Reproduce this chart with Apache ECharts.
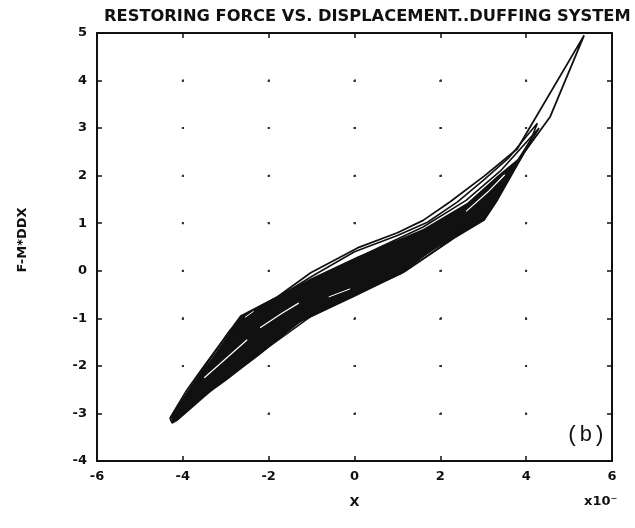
<!DOCTYPE html>
<html>
<head>
<meta charset="utf-8">
<script src="https://cdn.jsdelivr.net/npm/echarts@6/dist/echarts.min.js"></script>
<style>
  html, body { margin: 0; padding: 0; background: #fff; }
  #chart { width: 635px; height: 528px; }
</style>
</head>
<body>
<div id="chart"></div>
<script>
// axis ticks
const xTicks = [-6, -4, -2, 0, 2, 4, 6];
const yTicks = [-4, -3, -2, -1, 0, 1, 2, 3, 4, 5];

// dense part of the hysteresis band (upper edge left->right, lower edge right->left)
const bandUpper = [[-4.28, -3.07], [-3.8, -2.4], [-3.35, -1.87], [-2.65, -0.95], [-1.45, -0.36], [-1.0, -0.15],
  [0.07, 0.3], [0.8, 0.58], [1.6, 0.88], [2.63, 1.43], [3.33, 2.0], [3.8, 2.35], [4.2, 2.92]];
const bandLower = [[4.2, 2.92], [3.95, 2.48], [3.63, 1.98], [3.33, 1.49], [3.02, 1.07], [2.3, 0.68],
  [1.7, 0.36], [1.16, -0.02], [0, -0.53], [-1.3, -1.08], [-2.26, -1.78], [-3.26, -2.45],
  [-3.7, -2.75], [-4.12, -3.13], [-4.25, -3.2]];

// outer strands (x, F)
const loopA = [[-4.3, -3.1], [-3.9, -2.5], [-3.5, -2.0], [-2.65, -0.95], [-1.8, -0.55], [-1.02, -0.04],
  [0.07, 0.48], [1.0, 0.8], [1.6, 1.06], [2.23, 1.45], [3.02, 1.99], [3.79, 2.56], [5.35, 4.95],
  [4.56, 3.24], [3.95, 2.48], [3.33, 1.49], [3.02, 1.07], [2.3, 0.68], [1.16, -0.02], [0, -0.53],
  [-1.3, -1.08], [-2.26, -1.78], [-3.26, -2.45], [-4.12, -3.13], [-4.25, -3.2], [-4.3, -3.1]];
const loopB = [[-4.2, -3.0], [-3.7, -2.3], [-2.9, -1.25], [-2.0, -0.68], [-1.0, -0.12], [0, 0.4],
  [1.0, 0.74], [1.7, 1.02], [2.4, 1.45], [3.0, 1.9], [3.6, 2.38], [4.26, 3.1], [4.12, 2.78],
  [3.7, 2.1], [3.1, 1.2], [2.2, 0.62], [1.1, -0.05], [0, -0.5], [-1.2, -1.02], [-2.4, -1.85],
  [-3.4, -2.52], [-4.1, -3.1], [-4.2, -3.0]];
const loopC = [[-4.0, -2.85], [-3.3, -1.85], [-2.5, -1.0], [-1.4, -0.4], [-0.5, 0.02], [0.6, 0.5],
  [1.6, 0.92], [2.6, 1.48], [3.4, 2.1], [4.3, 3.0], [3.9, 2.4], [3.2, 1.4], [2.4, 0.8],
  [1.3, 0.12], [0.2, -0.42], [-1.0, -0.95], [-2.0, -1.6], [-3.0, -2.3], [-3.8, -2.82], [-4.0, -2.85]];

// thin light streaks seen inside the dark band
const streakA = [[-3.5, -2.25], [-3.0, -1.85], [-2.5, -1.45]];
const streakB = [[-2.2, -1.2], [-1.7, -0.9], [-1.3, -0.68]];
const streakC = [[-0.6, -0.55], [-0.1, -0.38]];
const streakD = [[2.6, 1.25], [3.1, 1.65], [3.5, 2.02]];
const streakE = [[-2.55, -0.98], [-2.35, -0.85]];

const chart = echarts.init(document.getElementById('chart'));
const FONT = 'DejaVu Sans';
const BLACK = '#111';

const bandPoly = bandUpper.concat(bandLower);

function loopSeries(data, color, width) {
  return {
    type: 'line', data: data, showSymbol: false, smooth: false, silent: true,
    lineStyle: { color: color, width: width }, z: 3
  };
}

const tickLabel = { color: BLACK, fontFamily: FONT, fontWeight: 'bold', fontSize: 13 };

chart.setOption({
  backgroundColor: '#fff',
  animation: false,
  title: {
    text: 'RESTORING FORCE VS. DISPLACEMENT..DUFFING SYSTEM',
    left: 99, top: 4,
    textStyle: { color: BLACK, fontFamily: FONT, fontWeight: 'bold', fontSize: 16.3 }
  },
  grid: { left: 97, right: 23, top: 33, bottom: 67 },
  xAxis: [{
    type: 'value', min: -6, max: 6, interval: 2,
    name: 'X', nameLocation: 'middle', nameGap: 35,
    nameTextStyle: tickLabel,
    axisLine: { show: true, onZero: false, lineStyle: { color: BLACK, width: 2 } },
    axisTick: { show: true, inside: true, length: 5, lineStyle: { color: BLACK, width: 1.5 } },
    axisLabel: Object.assign({ margin: 9 }, tickLabel),
    splitLine: { show: true, lineStyle: { color: '#333', width: 2, type: [2, 45.56], dashOffset: 1 } }
  }, {
    type: 'value', min: -6, max: 6, interval: 2, position: 'top',
    axisLine: { show: true, onZero: false, lineStyle: { color: BLACK, width: 2 } },
    axisTick: { show: true, inside: true, length: 5, lineStyle: { color: BLACK, width: 1.5 } },
    axisLabel: { show: false }, splitLine: { show: false }
  }],
  yAxis: [{
    type: 'value', min: -4, max: 5, interval: 1,
    name: 'F-M*DDX', nameLocation: 'middle', nameGap: 68, nameRotate: 90,
    nameTextStyle: Object.assign({}, tickLabel, { fontSize: 13, padding: [0, 0, 0, 14] }),
    axisLine: { show: true, onZero: false, lineStyle: { color: BLACK, width: 2 } },
    axisTick: { show: true, inside: true, length: 5, lineStyle: { color: BLACK, width: 1.5 } },
    axisLabel: Object.assign({ margin: 10 }, tickLabel),
    splitLine: { show: true, lineStyle: { color: '#333', width: 2, type: [2, 83.83], dashOffset: 1 } }
  }, {
    type: 'value', min: -4, max: 5, interval: 1, position: 'right',
    axisLine: { show: true, onZero: false, lineStyle: { color: BLACK, width: 2 } },
    axisTick: { show: true, inside: true, length: 5, lineStyle: { color: BLACK, width: 1.5 } },
    axisLabel: { show: false }, splitLine: { show: false }
  }],
  graphic: [
    { type: 'text', left: 584, top: 495, style: { text: 'x10\u207B', fill: BLACK, font: 'bold 13px "DejaVu Sans"' } },
    { type: 'text', left: 566, top: 424, style: { text: '(b)', fill: BLACK, font: '22px "Liberation Mono"' } }
  ],
  series: [
    {
      type: 'custom', silent: true, z: 2,
      data: [[0, 0]],
      renderItem: function (params, api) {
        const pts = bandPoly.map(p => api.coord(p));
        return { type: 'polygon', shape: { points: pts }, style: { fill: BLACK } };
      }
    },
    loopSeries(loopA, BLACK, 1.8),
    loopSeries(loopB, BLACK, 1.6),
    loopSeries(loopC, BLACK, 1.6),
    loopSeries(streakA, '#fff', 1.2),
    loopSeries(streakB, '#fff', 1.2),
    loopSeries(streakC, '#fff', 1),
    loopSeries(streakD, '#fff', 1.2),
    loopSeries(streakE, '#fff', 1)
  ]
});
</script>
</body>
</html>
